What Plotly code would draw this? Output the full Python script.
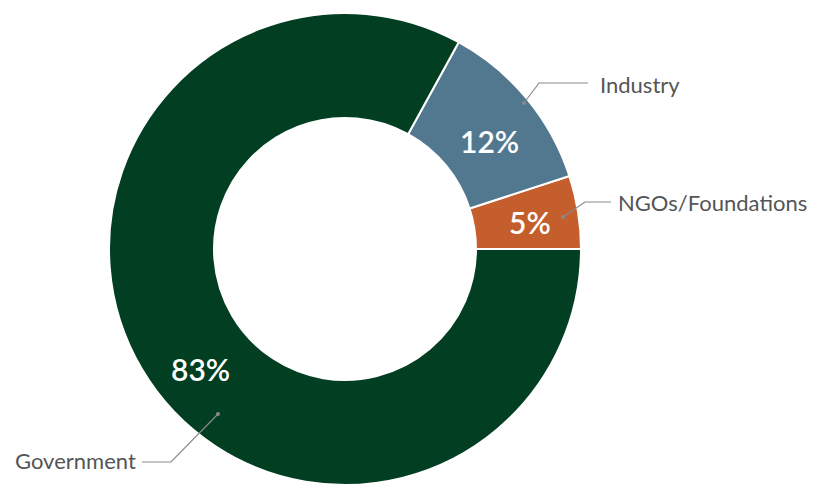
import plotly.graph_objects as go

# Funding sources (share of total, %)
labels = ["NGOs/Foundations", "Industry", "Government"]
values = [5, 12, 83]
colors = ["#c45e2c", "#52788f", "#023f22"]

W, H = 827, 485


def px(x):
    return x / W


def py(y):
    return 1 - y / H


fig = go.Figure()

fig.add_trace(go.Pie(
    labels=labels,
    values=values,
    hole=0.555,
    sort=False,
    direction="counterclockwise",
    rotation=72,
    marker=dict(colors=colors, line=dict(color="white", width=2)),
    textinfo="none",
    hoverinfo="label+percent",
    showlegend=False,
    domain=dict(x=[109 / W, 581 / W], y=[0, 1 - 13 / H]),
))

# percentage labels inside the ring
pct_pos = {"Industry": (489, 141), "NGOs/Foundations": (530, 222), "Government": (200, 369)}
annotations = []
for lab, val in zip(labels, values):
    x, y = pct_pos[lab]
    annotations.append(dict(
        x=px(x), y=py(y), xref="paper", yref="paper",
        xanchor="center", yanchor="middle",
        text=f"{val}%", showarrow=False,
        font=dict(family="Lato", size=30, color="white", weight=600),
    ))

# outside category labels with leader lines
callouts = [
    # label, dot, elbow, end, text anchor x, text y, align
    ("Industry", (524, 103), (539, 83), (588, 83), 598, 84, "left"),
    ("NGOs/Foundations", (563, 217), (585, 202), (611, 202), 616, 202, "left"),
    ("Government", (218, 414), (171, 462), (142, 462), 138, 460, "right"),
]
shapes = []
for lab, dot, elbow, end, tx, ty, side in callouts:
    shapes.append(dict(
        type="path", xref="paper", yref="paper",
        path=f"M {px(dot[0])},{py(dot[1])} L {px(elbow[0])},{py(elbow[1])} L {px(end[0])},{py(end[1])}",
        line=dict(color="#8a8a8a", width=1.2),
    ))
    shapes.append(dict(
        type="circle", xref="paper", yref="paper",
        x0=px(dot[0] - 2), x1=px(dot[0] + 2), y0=py(dot[1] + 2), y1=py(dot[1] - 2),
        fillcolor="#8a8a8a", line=dict(width=0),
    ))
    annotations.append(dict(
        x=px(tx), y=py(ty), xref="paper", yref="paper",
        text=lab, showarrow=False,
        xanchor="left" if side == "left" else "right", yanchor="middle",
        font=dict(family="Lato", size=22, color="#555555"),
    ))

fig.update_layout(
    width=W, height=H,
    margin=dict(l=0, r=0, t=0, b=0),
    paper_bgcolor="white",
    plot_bgcolor="white",
    annotations=annotations,
    shapes=shapes,
)

# drop the default page margin so the figure sits at the window origin
fig.write_html("out.html", config={"displayModeBar": False},
               post_script="document.body.style.margin='0';")
